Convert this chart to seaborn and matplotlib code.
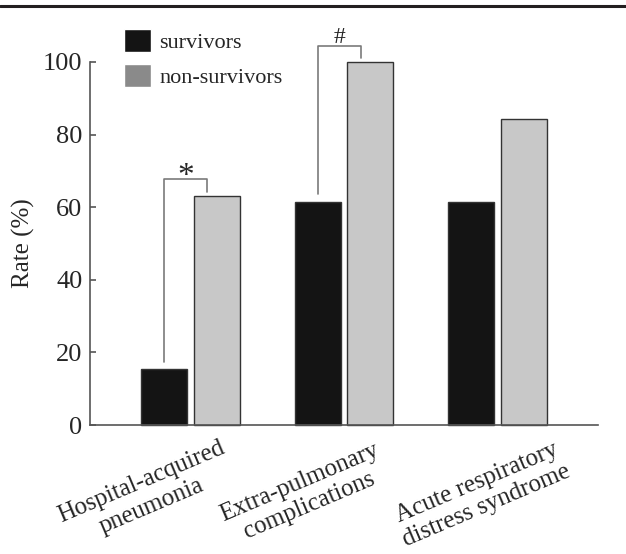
import numpy as np
import pandas as pd
import matplotlib.pyplot as plt
from matplotlib.lines import Line2D
from matplotlib.patches import Patch
from matplotlib.transforms import blended_transform_factory, ScaledTranslation
import seaborn as sns

# values
categories = ["Hospital-acquired\npneumonia",
              "Extra-pulmonary\ncomplications",
              "Acute respiratory\ndistress syndrome"]
groups = ["survivors", "non-survivors"]
survivors = [15.4, 61.5, 61.5]
non_survivors = [63.2, 100.0, 84.2]
yticks = [0, 20, 40, 60, 80, 100]
marks = ["*", "#", None]

# horizontal nudge (px) of each rotated category label
label_shift = [-44, -40, -16]

sns.set_theme(style="white")
plt.rcParams["font.family"] = ["Liberation Serif", "DejaVu Serif"]

df = pd.DataFrame({
    "category": categories * 2,
    "group": [groups[0]] * len(categories) + [groups[1]] * len(categories),
    "rate": survivors + non_survivors,
})

fig = plt.figure(figsize=(6.26, 5.54), dpi=100)
ax = fig.add_axes([90 / 626, 1 - 425 / 554, 508 / 626, 363 / 554])

sns.barplot(data=df, x="category", y="rate", hue="group",
            palette=["#141414", "#c8c8c8"], saturation=1,
            width=0.68, gap=0.12, edgecolor="#333333", linewidth=1.0,
            errorbar=None, legend=False, ax=ax)
for p in ax.patches:
    p.set_clip_on(False)

ax.set_xlim(-0.655, 2.655)
ax.set_ylim(0, 100)
ax.set_yticks(yticks)
ax.set_xticks(range(len(categories)))
ax.set_xticklabels([])
ax.set_xlabel("")
ax.set_ylabel("Rate (%)", fontsize=18, labelpad=6)

sns.despine(ax=ax)
for side in ["left", "bottom"]:
    ax.spines[side].set_color("#555555")
    ax.spines[side].set_linewidth(1.2)
ax.tick_params(axis="y", left=True, direction="in", length=4, width=1.2,
               color="#555555", labelsize=19, pad=5.5)
ax.tick_params(axis="x", bottom=False, length=0)

# rotated category labels under each group
for i, name in enumerate(categories):
    trans = blended_transform_factory(ax.transData, ax.transAxes) + \
        ScaledTranslation(label_shift[i] / 100, -69 / 100, fig.dpi_scale_trans)
    ax.text(i, 0, name, transform=trans, rotation=23, rotation_mode="anchor",
            ha="center", va="center", multialignment="center", fontsize=18,
            linespacing=1.2)

# significance brackets
for i, mark in enumerate(marks):
    if mark is None:
        continue
    s, n = survivors[i], non_survivors[i]
    left, right = i - 0.17, i + 0.11
    top = n + 4.5
    ax.plot([left, left, right, right], [s + 2, top, top, n + 1],
            color="#7a7a7a", lw=1.2, clip_on=False)
    if mark == "*":
        ax.text((left + right) / 2, top - 1.5, mark, ha="center", va="baseline",
                fontsize=24, clip_on=False)
    else:
        ax.text((left + right) / 2, top + 0.6, mark, ha="center", va="baseline",
                fontsize=17, clip_on=False)

handles = [Patch(facecolor="#141414"), Patch(facecolor="#8a8a8a")]
ax.legend(handles, groups, loc="upper left",
          bbox_to_anchor=(124 / 626, 1 - 29 / 554), bbox_transform=fig.transFigure,
          frameon=False, fontsize=16, handlelength=1.2, handleheight=1.2,
          handletextpad=0.4, labelspacing=0.5, borderpad=0, borderaxespad=0)

# thin rule across the top of the page
fig.add_artist(Line2D([0, 1], [1 - 6 / 554] * 2, transform=fig.transFigure,
                      color="#231f20", lw=2.2))

fig.savefig("out.png", dpi=100)
